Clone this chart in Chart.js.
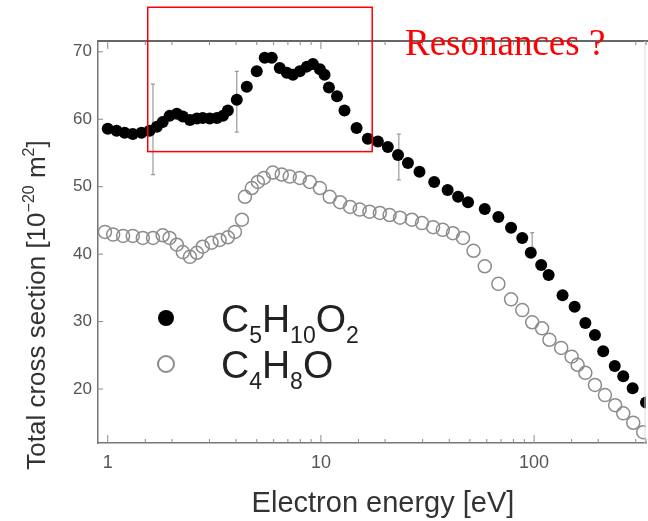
<!DOCTYPE html>
<html>
<head>
<meta charset="utf-8">
<script src="https://cdn.jsdelivr.net/npm/chart.js@4"></script>
<style>
  html, body { margin: 0; padding: 0; background: #fff; }
  #wrap { width: 648px; height: 521px; }
</style>
</head>
<body>
<div id="wrap"><canvas id="chart" width="648" height="521"></canvas></div>
<script>
// C5H10O2 (filled circles)
const pentEnergy = [1.0, 1.1, 1.2, 1.31, 1.44, 1.57, 1.7, 1.81, 1.95, 2.11, 2.25, 2.43, 2.62, 2.79, 3.01, 3.25, 3.47, 3.66, 4.03, 4.49,
  5.0, 5.45, 5.88, 6.41, 6.92, 7.39, 7.96, 8.59, 9.17, 9.89, 10.4, 10.9, 11.9, 12.9, 14.7, 16.6, 18.5, 20.6, 23.0, 25.6,
  29.0, 34.0, 39.3, 44.0, 49.0, 58.7, 68.0, 78.0, 88.0, 96.5, 108, 117, 136, 155, 174, 193, 211, 239, 262, 290, 335];
const pentCross = [58.6, 58.3, 58.0, 57.8, 58.0, 58.3, 58.9, 59.6, 60.5, 60.8, 60.4, 59.9, 60.1, 60.2, 60.1, 60.2, 60.5, 61.3, 62.9, 64.8,
  67.1, 69.1, 69.1, 67.6, 66.9, 66.6, 67.1, 67.8, 68.2, 67.4, 66.6, 64.7, 63.4, 61.3, 58.7, 57.1, 56.7, 55.9, 54.7, 53.5,
  52.2, 50.7, 49.5, 48.5, 47.7, 46.7, 45.5, 43.9, 42.4, 40.2, 38.4, 36.9, 33.9, 32.2, 29.8, 28.0, 25.6, 23.4, 21.9, 20.1, 18.0];

// C4H8O (open circles)
const thfEnergy = [0.97, 1.06, 1.18, 1.31, 1.46, 1.63, 1.81, 1.95, 2.11, 2.25, 2.43, 2.62, 2.79, 3.07, 3.35, 3.66, 3.95, 4.26, 4.4, 4.74,
  5.06, 5.4, 5.95, 6.55, 7.14, 7.96, 8.87, 9.89, 11.0, 12.3, 13.7, 15.2, 16.9, 18.9, 21.0, 23.5, 26.7, 29.8, 33.6, 37.3,
  41.6, 46.4, 52, 58.7, 68, 78, 88, 98, 109, 118, 134, 150, 160, 174, 193, 215, 240, 262, 292, 325];
const thfCross = [43.3, 42.9, 42.7, 42.7, 42.4, 42.4, 42.8, 42.4, 41.4, 40.3, 39.6, 40.2, 41.1, 41.7, 42.1, 42.5, 43.3, 45.1, 48.5, 49.8,
  50.7, 51.3, 52.1, 51.8, 51.5, 51.3, 50.7, 49.8, 48.5, 47.7, 47.0, 46.6, 46.3, 46.1, 45.8, 45.4, 45.1, 44.6, 44.0, 43.6,
  43.1, 42.4, 40.5, 38.2, 35.6, 33.3, 31.7, 29.9, 29.0, 27.3, 26.1, 24.8, 23.6, 22.4, 20.6, 19.1, 17.6, 16.4, 15.0, 13.6];

// error bars on the filled series
const errEnergy = [1.63, 4.03, 23.2, 98];
const errMid = [58.5, 62.6, 54.4, 42.1];
const errHalf = [6.7, 4.5, 3.4, 1.1];

const xLabels = [1, 10, 100];
const yLabels = [20, 30, 40, 50, 60, 70];
const seriesNames = ['C5H10O2', 'C4H8O'];

// "Resonances ?" box, in data units
const boxE = [1.54, 17.4];
const boxY = [55.2, 76.6];
const noteText = 'Resonances ?';

const SANS = '"Liberation Sans", Arial, sans-serif';

function toPoints(xs, ys) {
  return xs.map((x, i) => ({ x: x, y: ys[i] }));
}

// draws text with sub (1) / super (-1) parts
function drawRich(ctx, parts, x, y, size, align) {
  const fontOf = k => (k === 0 ? size : Math.round(size * 0.6)) + 'px ' + SANS;
  let total = 0;
  parts.forEach(p => { ctx.font = fontOf(p[1]); total += ctx.measureText(p[0]).width; });
  let cx = align === 'center' ? x - total / 2 : x;
  ctx.textAlign = 'left';
  ctx.textBaseline = 'alphabetic';
  parts.forEach(p => {
    ctx.font = fontOf(p[1]);
    const dy = p[1] === 1 ? size * 0.27 : p[1] === -1 ? -size * 0.42 : 0;
    ctx.fillText(p[0], cx, y + dy);
    cx += ctx.measureText(p[0]).width;
  });
}

function formulaParts(name) {
  return name.split(/(\d+)/).filter(s => s).map(s => [s, /\d/.test(s) ? 1 : 0]);
}

const decor = {
  id: 'decor',
  beforeDatasetsDraw(chart) {
    const { ctx, scales: { x, y } } = chart;
    ctx.save();
    ctx.strokeStyle = '#9a9a9a';
    ctx.lineWidth = 1.2;
    errEnergy.forEach((e, i) => {
      const px = x.getPixelForValue(e);
      const top = y.getPixelForValue(errMid[i] + errHalf[i]);
      const bot = y.getPixelForValue(errMid[i] - errHalf[i]);
      ctx.beginPath();
      ctx.moveTo(px, top); ctx.lineTo(px, bot);
      ctx.moveTo(px - 2, top); ctx.lineTo(px + 2, top);
      ctx.moveTo(px - 2, bot); ctx.lineTo(px + 2, bot);
      ctx.stroke();
    });
    ctx.restore();
  },
  afterDraw(chart) {
    const { ctx, chartArea: a, scales: { x, y } } = chart;
    ctx.save();

    // frame: top line and faint right line
    ctx.strokeStyle = '#666';
    ctx.lineWidth = 2;
    ctx.beginPath(); ctx.moveTo(a.left, a.top); ctx.lineTo(a.right + 2, a.top); ctx.stroke();
    ctx.strokeStyle = '#ddd';
    ctx.lineWidth = 1;
    ctx.beginPath(); ctx.moveTo(a.right - 1, a.top); ctx.lineTo(a.right - 1, a.bottom); ctx.stroke();

    // inner tick marks
    ctx.strokeStyle = '#888';
    ctx.lineWidth = 1;
    ctx.beginPath();
    yLabels.forEach(v => {
      const py = y.getPixelForValue(v);
      ctx.moveTo(a.left, py); ctx.lineTo(a.left + 5, py);
    });
    x.ticks.forEach(t => {
      const px = x.getPixelForValue(t.value);
      if (px < a.left + 1 || px > a.right) return;
      const len = xLabels.includes(t.value) ? 8 : 4;
      ctx.moveTo(px, a.bottom); ctx.lineTo(px, a.bottom - len);
      ctx.moveTo(px, a.top); ctx.lineTo(px, a.top + len);
    });
    ctx.stroke();

    // resonance box and note
    const bx0 = x.getPixelForValue(boxE[0]), bx1 = x.getPixelForValue(boxE[1]);
    const by0 = y.getPixelForValue(boxY[1]), by1 = y.getPixelForValue(boxY[0]);
    ctx.strokeStyle = '#ff0000';
    ctx.lineWidth = 1.5;
    ctx.strokeRect(bx0, by0, bx1 - bx0, by1 - by0);
    ctx.fillStyle = '#ff0000';
    ctx.font = '37px "Liberation Serif", "Times New Roman", serif';
    ctx.textAlign = 'left';
    ctx.textBaseline = 'alphabetic';
    ctx.fillText(noteText, 405, 55);

    // legend
    const ds = chart.data.datasets;
    seriesNames.forEach((name, i) => {
      const cy = 318 + i * 46;
      ctx.beginPath();
      ctx.arc(166, cy, 8, 0, Math.PI * 2);
      if (i === 0) { ctx.fillStyle = ds[0].backgroundColor; ctx.fill(); }
      else { ctx.strokeStyle = ds[1].borderColor; ctx.lineWidth = 2; ctx.stroke(); }
      ctx.fillStyle = '#222';
      drawRich(ctx, formulaParts(name), 221, cy + 14, 39, 'left');
    });

    // axis titles
    ctx.fillStyle = '#333';
    drawRich(ctx, [['Electron energy [eV]', 0]], 383, 512, 29, 'center');
    ctx.translate(45, 305);
    ctx.rotate(-Math.PI / 2);
    drawRich(ctx, [['Total cross section [10', 0], ['\u221220', -1], [' m', 0], ['2', -1], [']', 0]], 0, 0, 26, 'center');
    ctx.restore();
  }
};

const config = {
  type: 'scatter',
  data: {
    datasets: [
      {
        label: seriesNames[0],
        data: toPoints(pentEnergy, pentCross),
        backgroundColor: '#000',
        borderColor: '#000',
        borderWidth: 0,
        pointRadius: 6,
        pointHoverRadius: 6
      },
      {
        label: seriesNames[1],
        data: toPoints(thfEnergy, thfCross),
        backgroundColor: 'rgba(0,0,0,0)',
        borderColor: '#8c8c8c',
        borderWidth: 1.5,
        pointRadius: 6.5,
        pointHoverRadius: 6.5
      }
    ]
  },
  options: {
    responsive: false,
    animation: false,
    devicePixelRatio: 1,
    layout: { autoPadding: false, padding: { top: 41, right: 2, left: 0, bottom: 0 } },
    plugins: { legend: { display: false }, tooltip: { enabled: false } },
    scales: {
      x: {
        type: 'logarithmic',
        min: 0.9,
        max: 335,
        grid: { display: false, drawTicks: false },
        border: { display: true, color: '#777', width: 1.5 },
        ticks: {
          autoSkip: false,
          maxRotation: 0,
          padding: 9,
          color: '#555',
          font: { family: SANS, size: 18 },
          callback: v => (xLabels.includes(v) ? String(v) : '')
        },
        afterFit: s => { s.height = 78; s.paddingLeft = 0; s.paddingRight = 0; }
      },
      y: {
        min: 12,
        max: 71.6,
        grid: { display: false, drawTicks: false },
        border: { display: true, color: '#777', width: 1.5 },
        ticks: {
          stepSize: 10,
          includeBounds: false,
          padding: 6,
          color: '#555',
          font: { family: SANS, size: 17 },
          callback: v => (yLabels.includes(v) ? String(v) : '')
        },
        afterFit: s => { s.width = 98; s.paddingTop = 0; s.paddingBottom = 0; }
      }
    }
  },
  plugins: [decor]
};

new Chart(document.getElementById('chart'), config);
</script>
</body>
</html>
